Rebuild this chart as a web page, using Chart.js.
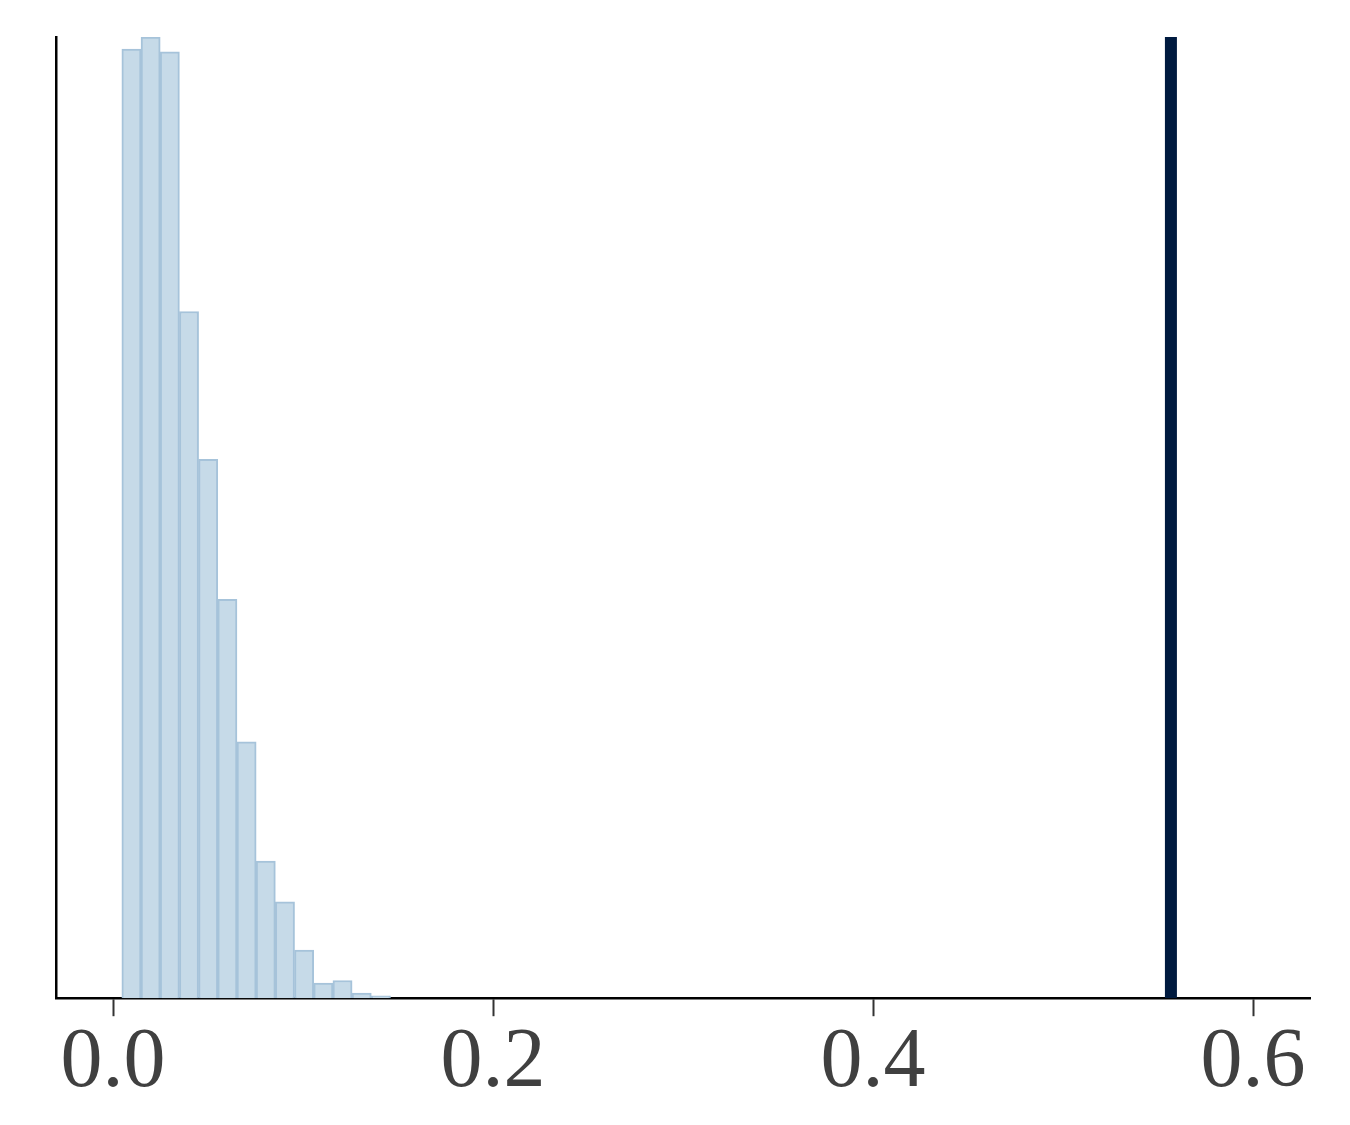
<!DOCTYPE html>
<html>
<head>
<meta charset="utf-8">
<script src="https://cdn.jsdelivr.net/npm/chart.js@4/dist/chart.umd.min.js"></script>
<style>
  html, body { margin: 0; padding: 0; background: #fff; }
  #wrap { width: 1350px; height: 1125px; }
</style>
</head>
<body>
<div id="wrap"><canvas id="myChart" width="1350" height="1125"></canvas></div>
<script>
// histogram bin centres (width ~0.0101) and heights
const binCenters = [0.0097, 0.0198, 0.0299, 0.0400, 0.0501, 0.0602, 0.0703,
                    0.0804, 0.0905, 0.1006, 0.1107, 0.1208, 0.1309, 0.1410];
const binCounts = [948.7, 960.7, 946, 686.3, 538.7, 398.7, 256.3,
                   137, 96.3, 48, 15, 17.7, 5, 2.4];
// observed value, drawn as a thick vertical line
const observedValue = 0.5568;
const xTickValues = [0.0, 0.2, 0.4, 0.6];

const yMax = Math.max(...binCounts);

const ctx = document.getElementById('myChart').getContext('2d');
const myChart = new Chart(ctx, {
	type: 'bar',
	data: {
		datasets: [
			{
				type: 'bar',
				data: binCenters.map((x, i) => ({ x: x, y: binCounts[i] })),
				backgroundColor: '#c6dae8',
				borderColor: '#a6c3da',
				borderWidth: 2,
				borderSkipped: 'bottom',
				barPercentage: 1,
				categoryPercentage: 1,
				order: 2
			},
			{
				type: 'line',
				data: [{ x: observedValue, y: 0 }, { x: observedValue, y: yMax }],
				borderColor: '#001a3f',
				borderWidth: 12,
				borderCapStyle: 'butt',
				pointRadius: 0,
				fill: false,
				order: 1
			}
		]
	},
	options: {
		responsive: false,
		animation: false,
		events: [],
		layout: {
			padding: { left: 56, right: 40, top: 37, bottom: 14 }
		},
		plugins: {
			legend: { display: false },
			tooltip: { enabled: false }
		},
		scales: {
			x: {
				type: 'linear',
				min: -0.03,
				max: 0.63,
				offset: false,
				afterBuildTicks: (axis) => {
					axis.ticks = xTickValues.map(v => ({ value: v }));
				},
				ticks: {
					callback: (v) => Number(v).toFixed(1),
					color: '#404040',
					font: { family: '"Liberation Serif", "Times New Roman", serif', size: 84 },
					padding: -3,
					maxRotation: 0,
					autoSkip: false
				},
				grid: {
					offset: false,
					drawOnChartArea: false,
					drawTicks: true,
					tickLength: 18,
					tickWidth: 2,
					tickColor: '#333'
				},
				border: { display: true, color: '#000', width: 2.5 }
			},
			y: {
				min: 0,
				max: yMax,
				ticks: { display: false },
				grid: { display: false, drawTicks: false },
				border: { display: true, color: '#000', width: 2.5 }
			}
		}
	}
});
</script>
</body>
</html>
